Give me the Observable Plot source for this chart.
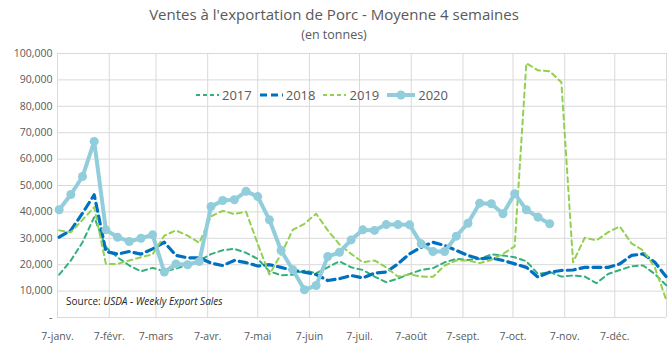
<!DOCTYPE html>
<html><head><meta charset="utf-8">
<script src="https://cdn.jsdelivr.net/npm/d3@7"></script>
<script src="https://cdn.jsdelivr.net/npm/@observablehq/plot@0.6"></script>
<style>
body{margin:0;background:#fff;}
#wrap{position:relative;width:668px;height:354px;font-family:"Open Sans",sans-serif;overflow:hidden;}
#wrap svg.chart{position:absolute;left:0;top:0;}
.title{position:absolute;left:0;width:668px;text-align:center;color:#595959;}
#t1{top:4px;font-size:15px;}
#t2{top:26px;font-size:12.5px;}
#legend{position:absolute;top:86px;left:196px;display:flex;align-items:center;font-size:13px;color:#595959;}
#legend .it{display:flex;align-items:center;margin-right:8px;}
#legend svg{margin-right:3px;}
#source{position:absolute;left:66px;top:294px;font-size:10px;color:#262626;}
</style></head><body><div id="wrap">
<div class="title" id="t1">Ventes à l'exportation de Porc - Moyenne 4 semaines</div>
<div class="title" id="t2">(en tonnes)</div>
</div>
<script>
// Month tick labels (7th of each month)
const monthLabels = ["7-janv.","7-févr.","7-mars","7-avr.","7-mai","7-juin","7-juil.","7-août","7-sept.","7-oct.","7-nov.","7-déc."];
const years = ["2017","2018","2019","2020"];
const colors = ["#33B07A","#0070C0","#92D050","#92CDDC"];
// Weekly 4-week moving average export sales (tonnes)
const v2017 = [16200,21600,28500,38000,26600,22800,19700,17500,18800,17500,18500,20000,21500,24000,25500,26000,24500,22200,17500,16000,16200,17800,16800,19000,21300,19000,18000,15500,13400,14700,16500,18000,18700,20900,22200,21800,22200,23900,23500,22800,21300,16500,17200,15500,15900,15500,13000,16500,18000,19400,19700,16500,12100];
const v2018 = [30400,33000,39500,46500,25000,24000,25000,24000,26000,28500,23500,22600,22600,20600,19700,21600,20800,19500,20000,19000,17800,17200,16300,14000,14700,15900,15000,16800,17200,20300,24100,26600,28500,27300,25400,23500,22200,22600,21600,20300,19000,15300,17200,17800,18000,19000,19000,19000,20300,23500,24100,20900,15300];
const v2019 = [33000,32300,37000,41800,20300,20300,21600,22800,23900,31000,33000,31000,28300,38300,40400,39200,40100,27900,16300,24000,33200,35500,39300,33000,27700,24100,20900,21600,19000,15500,16300,15500,15400,19700,21600,21600,20600,21800,24100,26900,96300,93600,93300,89100,20900,30200,29200,32300,34500,28100,25400,19000,6400];
const v2020 = [40800,46600,53400,66700,33200,30400,28800,30000,31300,17200,20300,20000,21200,42000,44300,44600,47800,45800,37000,25400,18100,10500,12100,23100,24700,29400,33200,33000,35200,35200,35100,27900,25000,25000,30800,35700,43300,43100,39300,46900,40800,38000,35500];
const yTicks = [0,10000,20000,30000,40000,50000,60000,70000,80000,90000,100000];

const weekStart = new Date(Date.UTC(2019,0,8));
const weekDate = i => d3.utcDay.offset(weekStart, 7*i);
const monthDates = monthLabels.map((_, m) => new Date(Date.UTC(2019, m, 7)));
const gridDates = [...monthDates, new Date(Date.UTC(2020,0,7))];
const labelMap = new Map(monthDates.map((d,i)=>[+d, monthLabels[i]]));

const rows = (vals, year) => vals.map((v,i)=>({date: weekDate(i), value: v, year}));
const d17 = rows(v2017,"2017"), d18 = rows(v2018,"2018"), d19 = rows(v2019,"2019"), d20 = rows(v2020,"2020");

const chart = Plot.plot({
  width: 668, height: 354,
  marginTop: 53, marginBottom: 37, marginLeft: 57, marginRight: 2,
  style: {fontFamily: "Open Sans, sans-serif", background: "transparent"},
  x: {type: "utc", domain: [new Date(Date.UTC(2019,0,7)), new Date(Date.UTC(2020,0,7))]},
  y: {domain: [0, 100000]},
  marks: [
    Plot.gridY(yTicks, {stroke: "#d9d9d9", strokeOpacity: 1}),
    Plot.gridX(gridDates, {stroke: "#d9d9d9", strokeOpacity: 1}),
    Plot.axisY(yTicks, {tickSize: 0, tickPadding: 5, label: null, fontSize: 10.5, fill: "#595959",
      tickFormat: d => d === 0 ? "-" : d3.format(",")(d)}),
    Plot.axisX(monthDates, {tickSize: 0, tickPadding: 15, label: null, fontSize: 10.5, fill: "#595959",
      tickFormat: d => labelMap.get(+d)}),
    Plot.line(d17, {x: "date", y: "value", stroke: colors[0], strokeWidth: 2, strokeDasharray: "5,4"}),
    Plot.line(d18, {x: "date", y: "value", stroke: colors[1], strokeWidth: 3.2, strokeDasharray: "8,5"}),
    Plot.line(d19, {x: "date", y: "value", stroke: colors[2], strokeWidth: 2, strokeDasharray: "5,4"}),
    Plot.line(d20, {x: "date", y: "value", stroke: colors[3], strokeWidth: 4}),
    Plot.dot(d20, {x: "date", y: "value", r: 4.5, fill: colors[3], stroke: "none"})
  ]
});
chart.classList.add("chart");
const wrap = document.getElementById("wrap");
wrap.insertBefore(chart, wrap.firstChild);

// Legend
const legend = document.createElement("div");
legend.id = "legend";
const dashes = ["4,3","7,4","4,3",null];
const widths = [2,3.2,2,4];
years.forEach((y,i)=>{
  const it = document.createElement("div"); it.className = "it";
  const w = i===3 ? 28 : 23;
  let s = `<svg width="${w}" height="12"><line x1="0" x2="${w}" y1="6" y2="6" stroke="${colors[i]}" stroke-width="${widths[i]}" ${dashes[i]?`stroke-dasharray="${dashes[i]}"`:""}/>`;
  if (i===3) s += `<circle cx="${w/2}" cy="6" r="4.5" fill="${colors[i]}"/>`;
  s += `</svg><span>${y}</span>`;
  it.innerHTML = s;
  legend.appendChild(it);
});
wrap.appendChild(legend);

const src = document.createElement("div");
src.id = "source";
src.innerHTML = "Source: <i>USDA - Weekly Export Sales</i>";
wrap.appendChild(src);
</script>
</body></html>
